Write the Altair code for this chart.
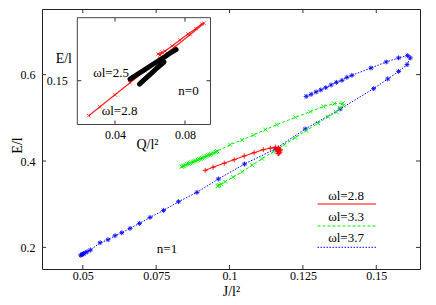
import altair as alt
import pandas as pd

FONT = "Liberation Serif"

# ---------------- main panel data (J/l^2 , E/l) ----------------
red_J = [0.0917, 0.0944, 0.0982, 0.1016, 0.1050, 0.1084, 0.1115, 0.1139, 0.1156, 0.1166,
         0.1173, 0.1171, 0.1166, 0.1163, 0.1159, 0.1168, 0.1172, 0.1170, 0.1166, 0.1168]
red_E = [0.3783, 0.3857, 0.3950, 0.4031, 0.4117, 0.4193, 0.4263, 0.4297, 0.4321, 0.4309,
         0.4263, 0.4205, 0.4170, 0.4216, 0.4263, 0.4290, 0.4240, 0.4190, 0.4175, 0.4230]

green_J = [0.0837, 0.0841, 0.0845, 0.0850, 0.0856, 0.0861, 0.0866, 0.0871, 0.0876, 0.0881,
           0.0886, 0.0892, 0.0897, 0.0902, 0.0907, 0.0912, 0.0917, 0.0922, 0.0927, 0.0932,
           0.0937, 0.0943, 0.0948, 0.0953, 0.0958, 0.1002, 0.1042, 0.1082, 0.1122, 0.1161,
           0.1224, 0.1275, 0.1320, 0.1357, 0.1386, 0.1388, 0.1377, 0.1364, 0.1336, 0.1302,
           0.1261, 0.1224, 0.1186, 0.1149, 0.1111, 0.1077, 0.1043, 0.1012, 0.0985, 0.0972,
           0.0965, 0.0961, 0.0960]
green_E = [0.3869, 0.3880, 0.3892, 0.3910, 0.3927, 0.3938, 0.3950, 0.3968, 0.3985, 0.3996,
           0.4008, 0.4026, 0.4043, 0.4054, 0.4066, 0.4083, 0.4100, 0.4118, 0.4135, 0.4146,
           0.4158, 0.4176, 0.4193, 0.4210, 0.4228, 0.4378, 0.4487, 0.4603, 0.4726, 0.4842,
           0.5011, 0.5143, 0.5266, 0.5328, 0.5340, 0.5282, 0.5224, 0.5131, 0.5027, 0.4877,
           0.4703, 0.4541, 0.4379, 0.4216, 0.4054, 0.3904, 0.3753, 0.3626, 0.3521, 0.3464,
           0.3440, 0.3429, 0.3418]

blue_J = [0.0493, 0.0496, 0.0499, 0.0503, 0.0508, 0.0515, 0.0526, 0.0559, 0.0586, 0.0610,
          0.0633, 0.0661, 0.0693, 0.0729, 0.0775, 0.0826, 0.0889, 0.0962, 0.1051, 0.1156,
          0.1258, 0.1377, 0.1491, 0.1539, 0.1576, 0.1605, 0.1616, 0.1607, 0.1576, 0.1534,
          0.1482, 0.1417, 0.1400, 0.1383, 0.1364, 0.1346, 0.1328, 0.1311, 0.1295, 0.1278, 0.1261]
blue_E = [0.1819, 0.1830, 0.1842, 0.1854, 0.1877, 0.1900, 0.1939, 0.2108, 0.2178, 0.2271,
          0.2340, 0.2440, 0.2556, 0.2694, 0.2857, 0.3058, 0.3274, 0.3584, 0.3931, 0.4279,
          0.4742, 0.5205, 0.5676, 0.5900, 0.6076, 0.6232, 0.6387, 0.6440, 0.6387, 0.6294,
          0.6155, 0.5984, 0.5937, 0.5868, 0.5822, 0.5761, 0.5699, 0.5646, 0.5600, 0.5544, 0.5497]

# ---------------- inset data (Q/l^2 , E/l) ----------------
inset_red_Q = [0.0250, 0.0314, 0.0400, 0.0486, 0.0571, 0.0657, 0.0743, 0.0829, 0.0909,
               0.0895, 0.0863, 0.0817, 0.0771, 0.0726, 0.0686, 0.0657, 0.0646, 0.0669]
inset_red_E = [0.1100, 0.1202, 0.1339, 0.1476, 0.1614, 0.1751, 0.1889, 0.2026, 0.2156,
               0.2148, 0.2096, 0.2033, 0.1965, 0.1896, 0.1839, 0.1793, 0.1805, 0.1828]

inset_black_Q = [0.0486, 0.0526, 0.0566, 0.0606, 0.0646, 0.0686, 0.0720, 0.0749,
                 0.0540, 0.0571, 0.0606, 0.0640, 0.0680]
inset_black_E = [0.1519, 0.1571, 0.1622, 0.1674, 0.1725, 0.1776, 0.1822, 0.1856,
                 0.1462, 0.1519, 0.1582, 0.1645, 0.1714]
inset_black_branch = [1, 1, 1, 1, 1, 1, 1, 1, 2, 2, 2, 2, 2]

series_labels = ["ωl=2.8", "ωl=3.3", "ωl=3.7"]
inset_labels = ["ωl=2.5", "ωl=2.8", "n=0"]
main_label = "n=1"

x_ticks = [0.05, 0.075, 0.1, 0.125, 0.15]
y_ticks = [0.2, 0.4, 0.6]
inset_x_ticks = [0.04, 0.08]
inset_y_ticks = [0.15]

# ---------------- layout ----------------
W, H = 378, 260
PLUS = "M-1,0L1,0M0,-1L0,1"
CROSS = "M-1,-1L1,1M-1,1L1,-1"
STAR = "M-1,0L1,0M0,-1L0,1M-0.7,-0.7L0.7,0.7M-0.7,0.7L0.7,-0.7"

RED, GREEN, BLUE = "#ff0000", "#00ee00", "#0000ff"

xs = alt.Scale(domain=[0.0361, 0.1649], nice=False, zero=False)
ys = alt.Scale(domain=[0.15, 0.752], nice=False, zero=False)
IX0, IX1, IY0, IY1 = 35.3, 168.5, 115.5, 8.7
ixs = alt.Scale(domain=[0.01846, 0.09457], range=[IX0, IX1], nice=False, zero=False)
iys = alt.Scale(domain=[0.10, 0.222], range=[IY0, IY1], nice=False, zero=False)

ax_x = alt.Axis(values=x_ticks, format=".3~g", title="J/l²", labelPadding=1,
                labelFontSize=12, titleFontSize=14, titleY=22, titleBaseline="middle")
ax_y = alt.Axis(values=y_ticks, format=".1f", title="E/l", labelPadding=7,
                labelFontSize=12, titleFontSize=14, titleX=-25, titleY=136,
                titleBaseline="middle", titleAngle=-90, titleAlign="center")
ax_ix = alt.Axis(orient="bottom", offset=-144.5, values=inset_x_ticks, format=".2f",
                 title="Q/l²", labelPadding=5, labelFontSize=12, titleFontSize=14,
                 titleX=105, titleY=20, titleBaseline="middle")
ax_iy = alt.Axis(orient="left", offset=-35.3, values=inset_y_ticks, format=".2f",
                 title="E/l", labelPadding=10, labelFontSize=12, titleFontSize=14,
                 titleAngle=0, titleX=-14, titleY=49, titleAlign="center",
                 titleBaseline="middle")


def df(xv, yv, extra=None):
    d = pd.DataFrame({"x": xv, "y": yv, "i": list(range(len(xv)))})
    if extra is not None:
        d["b"] = extra
    return d


def main_series(xv, yv, color, shape, dash, size):
    base = alt.Chart(df(xv, yv)).encode(
        x=alt.X("x:Q", scale=xs, axis=ax_x),
        y=alt.Y("y:Q", scale=ys, axis=ax_y),
        order="i:Q",
    )
    line_kw = dict(color=color, strokeWidth=1)
    if dash:
        line_kw["strokeDash"] = dash
    return alt.layer(
        base.mark_line(**line_kw),
        base.mark_point(shape=shape, filled=False, color=color, size=size, strokeWidth=1, opacity=0.9),
    )


red = main_series(red_J, red_E, RED, PLUS, None, 26)
green = main_series(green_J, green_E, GREEN, CROSS, [3, 2], 16)
blue = main_series(blue_J, blue_E, BLUE, STAR, [1.5, 1.5], 24)

tick_color = "#333333"
xt = alt.Chart(pd.DataFrame({"x": x_ticks}))
yt = alt.Chart(pd.DataFrame({"y": y_ticks}))
main_ticks = alt.layer(
    xt.mark_rule(color=tick_color).encode(x=alt.X("x:Q", scale=xs, axis=ax_x), y=alt.value(H), y2=alt.value(H - 4)),
    xt.mark_rule(color=tick_color).encode(x=alt.X("x:Q", scale=xs, axis=ax_x), y=alt.value(0), y2=alt.value(4)),
    yt.mark_rule(color=tick_color).encode(y=alt.Y("y:Q", scale=ys, axis=ax_y), x=alt.value(0), x2=alt.value(4)),
    yt.mark_rule(color=tick_color).encode(y=alt.Y("y:Q", scale=ys, axis=ax_y), x=alt.value(W), x2=alt.value(W - 4)),
)

one = pd.DataFrame({"k": [0]})
texts = []
texts.append(alt.Chart(one).mark_text(text=main_label, fontSize=13, font=FONT, color="black")
             .encode(x=alt.value(125), y=alt.value(239.5)))

# legend (gnuplot style: label above its line sample)
leg_styles = [(RED, None), (GREEN, [3, 2]), (BLUE, [1.5, 1.5])]
leg_text_y = [187, 207.7, 229]
leg_line_y = [195, 217, 238.3]
for lab, (col, dash), ty, ly in zip(series_labels, leg_styles, leg_text_y, leg_line_y):
    texts.append(alt.Chart(one).mark_text(text=lab, fontSize=13, font=FONT, color="black")
                 .encode(x=alt.value(304), y=alt.value(ty)))
    kw = dict(color=col, strokeWidth=1)
    if dash:
        kw["strokeDash"] = dash
    texts.append(alt.Chart(one).mark_rule(**kw)
                 .encode(x=alt.value(275.5), x2=alt.value(334), y=alt.value(ly)))

main = alt.layer(blue, green, red, main_ticks, *texts)

# ---------------- inset ----------------
frame = alt.Chart(one).mark_rect(fill="white", stroke="#444444", strokeWidth=1).encode(
    x=alt.value(IX0), x2=alt.value(IX1), y=alt.value(IY1), y2=alt.value(IY0))

ired = alt.Chart(df(inset_red_Q, inset_red_E)).encode(
    x=alt.X("x:Q", scale=ixs, axis=ax_ix), y=alt.Y("y:Q", scale=iys, axis=ax_iy), order="i:Q")
iblack = alt.Chart(df(inset_black_Q, inset_black_E, inset_black_branch)).encode(
    x=alt.X("x:Q", scale=ixs, axis=ax_ix), y=alt.Y("y:Q", scale=iys, axis=ax_iy),
    order="i:Q", detail="b:N")

ixt = alt.Chart(pd.DataFrame({"x": inset_x_ticks}))
iyt = alt.Chart(pd.DataFrame({"y": inset_y_ticks}))
inset_ticks = alt.layer(
    ixt.mark_rule(color=tick_color).encode(x=alt.X("x:Q", scale=ixs, axis=ax_ix), y=alt.value(IY0), y2=alt.value(IY0 - 4)),
    ixt.mark_rule(color=tick_color).encode(x=alt.X("x:Q", scale=ixs, axis=ax_ix), y=alt.value(IY1), y2=alt.value(IY1 + 4)),
    iyt.mark_rule(color=tick_color).encode(y=alt.Y("y:Q", scale=iys, axis=ax_iy), x=alt.value(IX0), x2=alt.value(IX0 + 4)),
    iyt.mark_rule(color=tick_color).encode(y=alt.Y("y:Q", scale=iys, axis=ax_iy), x=alt.value(IX1), x2=alt.value(IX1 - 4)),
)

inset_text_pos = [(69, 63.5), (77.5, 101.5), (146.5, 81.5)]
inset_texts = [
    alt.Chart(one).mark_text(text=t, fontSize=13, font=FONT, color="black")
    .encode(x=alt.value(px), y=alt.value(py))
    for t, (px, py) in zip(inset_labels, inset_text_pos)
]

inset = alt.layer(
    frame,
    ired.mark_line(color=RED, strokeWidth=1.3, opacity=0.85),
    ired.mark_point(shape=CROSS, filled=False, color=RED, size=12, strokeWidth=1),
    iblack.mark_line(color="black", strokeWidth=5, strokeCap="round"),
    inset_ticks,
    *inset_texts,
)

chart = (
    alt.layer(main, inset)
    .resolve_scale(x="independent", y="independent")
    .properties(
        width=W, height=H,
        autosize=alt.AutoSizeParams(type="none"),
        padding={"left": 34, "top": 1, "right": 8, "bottom": 28},
    )
    .configure_view(stroke="#222222", strokeWidth=1)
    .configure_axis(labelFont=FONT, titleFont=FONT, labelColor="black", titleColor="black",
                    titleFontWeight="normal", grid=False, domain=False, ticks=False)
    .configure_text(font=FONT)
)

chart.save("out.html", embed_options={"renderer": "svg", "actions": False})
